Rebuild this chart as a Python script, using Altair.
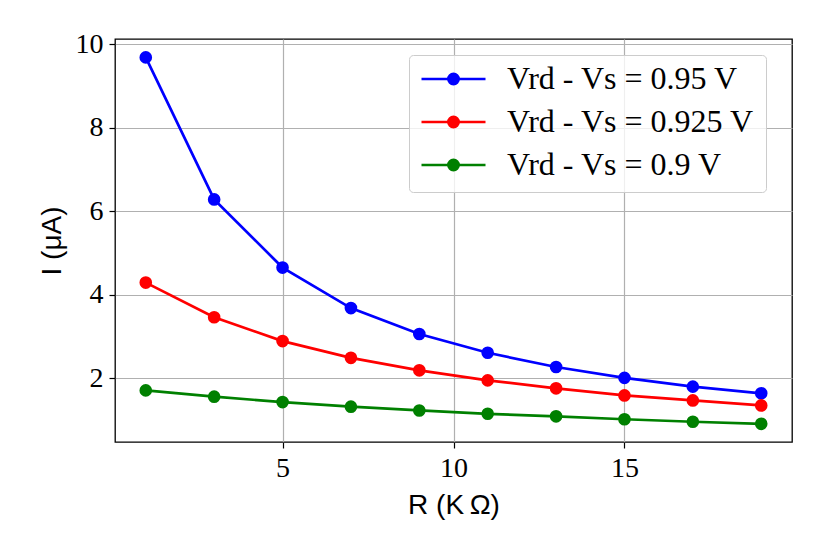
import altair as alt
import pandas as pd

R = [1, 3, 5, 7, 9, 11, 13, 15, 17, 19]
series_names = ["Vrd - Vs = 0.95 V", "Vrd - Vs = 0.925 V", "Vrd - Vs = 0.9 V"]
series_colors = ["#0000ff", "#ff0000", "#008000"]
I_095 = [9.68, 6.28, 4.65, 3.68, 3.06, 2.61, 2.27, 2.01, 1.80, 1.64]
I_0925 = [4.29, 3.46, 2.89, 2.49, 2.19, 1.95, 1.76, 1.59, 1.47, 1.35]
I_090 = [1.71, 1.56, 1.43, 1.32, 1.23, 1.15, 1.09, 1.02, 0.96, 0.91]
x_ticks = [5, 10, 15]
y_ticks = [2, 4, 6, 8, 10]

rows = []
for name, vals in zip(series_names, [I_095, I_0925, I_090]):
    for r, v in zip(R, vals):
        rows.append({"R": r, "I": v, "series": name})
df = pd.DataFrame(rows)

x = alt.X("R:Q", scale=alt.Scale(domain=[0.1, 19.9], nice=False, zero=False),
          axis=alt.Axis(values=x_ticks, title="R (K\u2009Ω)"))
y = alt.Y("I:Q", scale=alt.Scale(domain=[0.475, 10.12], nice=False, zero=False),
          axis=alt.Axis(values=y_ticks, title="I (μA)"))

legend_symbol = ("M-1,0H1"
                 "M0.16,0A0.16,0.16,0,1,1,-0.16,0A0.16,0.16,0,1,1,0.16,0Z"
                 "M0.08,0A0.08,0.08,0,1,1,-0.08,0A0.08,0.08,0,1,1,0.08,0Z"
                 "M0.02,0A0.02,0.02,0,1,1,-0.02,0A0.02,0.02,0,1,1,0.02,0Z")

color_scale = alt.Scale(domain=series_names, range=series_colors)

lines = alt.Chart(df).mark_line(strokeWidth=2.7).encode(
    x=x, y=y,
    color=alt.Color("series:N", scale=color_scale, sort=series_names,
                    legend=alt.Legend(
                        title=None, orient="none", legendX=294, legendY=16,
                        symbolType=legend_symbol, symbolSize=4096,
                        symbolStrokeWidth=2.7,
                        labelFont="Liberation Serif", labelFontSize=32,
                        labelColor="black",
                        fillColor="rgba(255,255,255,0.8)", strokeColor="#cccccc",
                        cornerRadius=4, padding=11, rowPadding=11,
                        clipHeight=26, symbolOffset=0, labelOffset=20,
                        labelLimit=400)),
    detail="series:N",
)
points = alt.Chart(df).mark_point(filled=True, size=160, opacity=1).encode(
    x=x, y=y,
    color=alt.Color("series:N", scale=color_scale, sort=series_names, legend=None),
)

chart = alt.layer(lines, points).properties(
    width=677, height=403,
    autosize=alt.AutoSizeParams(type="none"),
    padding={"left": 107, "top": 31, "right": 22, "bottom": 90},
).configure_view(
    stroke="black", strokeWidth=1.3
).configure_axis(
    grid=True, gridColor="#b0b0b0", gridWidth=1.2,
    domain=False, ticks=True, tickColor="black", tickSize=6, tickWidth=1.2,
    labelFont="Liberation Serif", labelFontSize=28, labelColor="black",
    labelPadding=6,
    titleFont="Liberation Sans", titleFontSize=28, titleFontWeight="normal",
    titleColor="black",
).configure_axisX(
    titlePadding=9, labelFlush=False
).configure_axisY(
    titlePadding=9, labelFlush=False
)

chart.save("out.html", embed_options={"renderer": "svg", "actions": False})
